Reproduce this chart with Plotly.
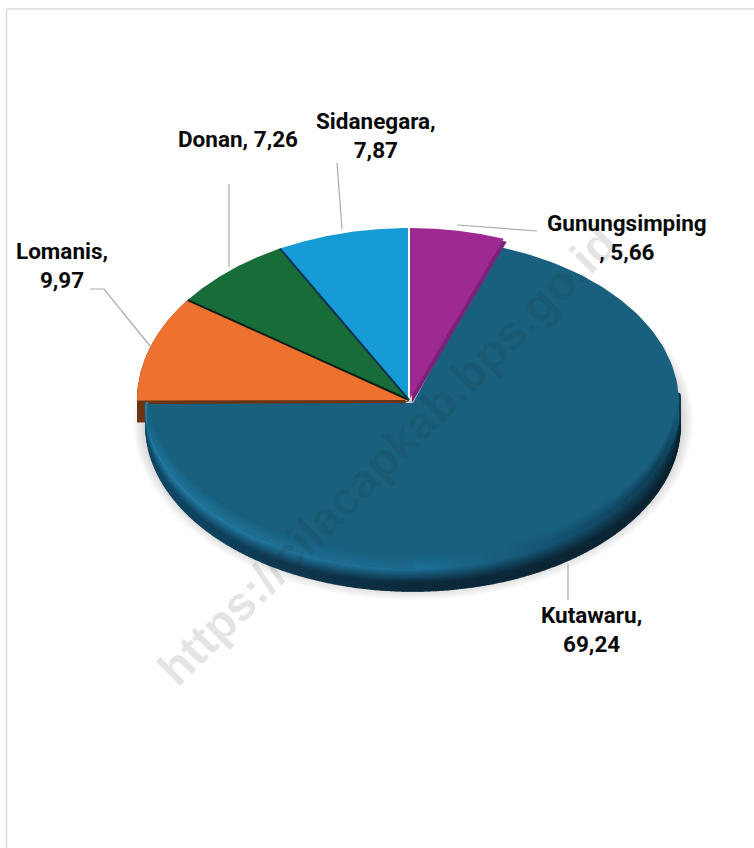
import numpy as np
import plotly.graph_objects as go

categories = ["Gunungsimping", "Kutawaru", "Lomanis", "Donan", "Sidanegara"]
values = [5.66, 69.24, 9.97, 7.26, 7.87]
colors = ["#9E2A91", "#19607F", "#EE7130", "#176C38", "#179BD7"]
side_colors = {"Gunungsimping": "#7B2378", "Lomanis": "#6B3412"}
label_texts = ["Gunungsimping<br>, 5,66", "Kutawaru,<br>69,24", "Lomanis,<br>9,97", "Donan, 7,26", "Sidanegara,<br>7,87"]

CX, CY, RX, RY = 409, 400, 272, 172
BCX, BCY, BRX, BRY = 413, 403, 266, 165
DEPTH = 22

total = sum(values)
edges = np.concatenate([[0], np.cumsum(values)]) / total * 2 * np.pi
FACE_RGB = np.array([25, 96, 127])


def sector(a0, a1, cx, cy, rx, ry):
    t = np.linspace(a0, a1, 160)
    x = np.concatenate([[cx], cx + rx * np.sin(t), [cx]])
    y = np.concatenate([[cy], cy - ry * np.cos(t), [cy]])
    return x, y


def fill_trace(x, y, color, name=None):
    return go.Scatter(x=x, y=y, mode="lines", fill="toself", fillcolor=color,
                      line=dict(width=0, color=color), hoverinfo="skip" if name is None else "text",
                      text=name, showlegend=False)


def lerp(a, b, f):
    return a + (b - a) * f


def rim_rgb(s, t):
    # s: -1 left ... +1 right, t: 0 face edge ... 1 bottom edge
    top_l, bot_l = np.array([38, 128, 170]), np.array([17, 74, 104])
    top_m, bot_m = np.array([30, 112, 150]), np.array([13, 42, 60])
    top_r, bot_r = np.array([14, 56, 78]), np.array([12, 36, 50])
    if s < 0:
        top, bot = lerp(top_m, top_l, -s), lerp(bot_m, bot_l, -s)
    else:
        top, bot = lerp(top_m, top_r, s), lerp(bot_m, bot_r, s)
    return lerp(top, bot, min(1, t * 1.6))


def rim_markers(t, angles, color_of):
    xs = BCX + BRX * np.sin(angles)
    ys = BCY + t * DEPTH - BRY * np.cos(angles)
    cols = []
    for a in angles:
        r, g, b = color_of(a)
        cols.append(f"rgb({r:.0f},{g:.0f},{b:.0f})")
    return go.Scatter(x=xs, y=ys, mode="markers", hoverinfo="skip", showlegend=False,
                      marker=dict(size=4, color=cols, line=dict(width=0)))


fig = go.Figure()

# soft ground shadow
th = np.linspace(0, 2 * np.pi, 200)
for k in range(9):
    grow = 14 - k * 1.5
    fig.add_trace(fill_trace(BCX + (BRX + grow) * np.sin(th), BCY + DEPTH - 4 + (BRY + grow) * np.cos(th),
                             "rgba(60,60,60,0.022)"))

# side wall under the orange slice
for d in range(0, DEPTH + 1, 2):
    x, y = sector(edges[2], edges[3], CX, CY + d, RX, RY)
    fig.add_trace(fill_trace(x, y, side_colors["Lomanis"]))

# rim of the big slice, built up in bands following the slice's own angles
rim_angles = np.linspace(edges[1], edges[2], 520)
rim_angles = rim_angles[np.cos(rim_angles) < 0.05]
for t in np.linspace(0, 1, 14)[::-1]:
    fig.add_trace(rim_markers(t, rim_angles, lambda a, t=t: rim_rgb(np.sin(a), t)))

# big slice face (runs slightly under the purple wall so no gap shows)
x, y = sector(edges[1] - 0.03, edges[2], BCX, BCY, BRX, BRY)
fig.add_trace(fill_trace(x, y, colors[1], categories[1]))

# inner bevel: face colour blends into the rim colour near the lower edge
inner_angles = rim_angles[np.cos(rim_angles) < -0.12]
for t in np.linspace(-0.6, -0.04, 12):
    def inner(a, t=t):
        w = (1 - t / -0.6) * min(1, -np.cos(a) * 2.5)
        w *= 0.55 if np.sin(a) < 0 else 1.0
        return lerp(FACE_RGB, rim_rgb(np.sin(a), 0), w)
    fig.add_trace(rim_markers(t, inner_angles, inner))

# purple side wall
x, y = sector(edges[0], edges[1], CX + 3, CY + 3, RX, RY)
fig.add_trace(fill_trace(x, y, side_colors["Gunungsimping"]))

# remaining faces
for i in [0, 2, 3, 4]:
    x, y = sector(edges[i], edges[i + 1], CX, CY, RX, RY)
    fig.add_trace(fill_trace(x, y, colors[i], categories[i]))

# slice separators
seps = [(edges[0], "#FFFFFF", 2), (edges[3], "#0E1F14", 2), (edges[4], "#10324F", 2)]
for a, c, w in seps:
    fig.add_trace(go.Scatter(x=[CX, CX + RX * np.sin(a)], y=[CY, CY - RY * np.cos(a)], mode="lines",
                             line=dict(color=c, width=w), hoverinfo="skip", showlegend=False))

LEADER = "#ABABAB"
leaders = [[(457, 225), (537, 231)], [(568, 564), (568, 600)], [(150, 346), (104, 289), (90, 289)],
           [(229, 267), (229, 184)], [(342, 229), (337, 163)]]
shapes = []
for pts in leaders:
    path = "M " + " L ".join(f"{px},{py}" for px, py in pts)
    shapes.append(dict(type="path", path=path, line=dict(color=LEADER, width=1.2), layer="above"))
for x0, y0, x1, y1 in [(6.5, 9, 754, 9), (6.5, 9, 6.5, 848)]:
    shapes.append(dict(type="line", x0=x0, y0=y0, x1=x1, y1=y1, line=dict(color="#DCDCDC", width=1.5), layer="below"))

label_pos = [(627, 237), (591, 629), (62, 265), (238, 139), (376, 135)]
FONT = dict(family="Roboto, sans-serif", size=22.5, color="#0A0A0A")
annotations = [dict(x=px, y=py, text=f"<b>{txt}</b>", showarrow=False, font=FONT, align="center",
                    xanchor="center", yanchor="middle") for (px, py), txt in zip(label_pos, label_texts)]
annotations.append(dict(x=387, y=455, text="<b>https://cilacapkab.bps.go.id</b>", textangle=-45, showarrow=False,
                        font=dict(family="Liberation Sans, Arial, sans-serif", size=47.5, color="rgba(40,40,40,0.13)"),
                        xanchor="center", yanchor="middle"))

fig.update_layout(width=754, height=848, margin=dict(l=0, r=0, t=0, b=0), paper_bgcolor="white", plot_bgcolor="white",
                  xaxis=dict(range=[0, 754], visible=False, fixedrange=True),
                  yaxis=dict(range=[848, 0], visible=False, fixedrange=True),
                  shapes=shapes, annotations=annotations, showlegend=False)
fig.write_html("out.html", config=dict(displayModeBar=False),
               post_script="document.body.style.margin='0';document.documentElement.style.overflow='hidden';")
